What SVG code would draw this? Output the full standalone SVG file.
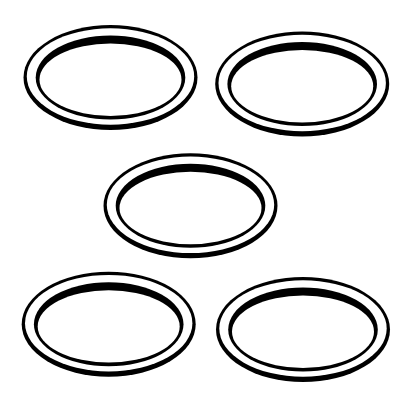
<svg xmlns="http://www.w3.org/2000/svg" xmlns:xlink="http://www.w3.org/1999/xlink" width="412" height="417" viewBox="0 0 412 417">
  <style>
    .ink { fill: #000000; }
    .paper { fill: #ffffff; }
  </style>
  <defs>
    <g id="ring">
      <ellipse class="ink" cx="0" cy="0" rx="87" ry="52.5"/>
      <ellipse class="paper" cx="0" cy="-1" rx="83.7" ry="48.3"/>
      <ellipse class="ink" cx="0" cy="0" rx="74.8" ry="42"/>
      <ellipse class="paper" cx="0" cy="2.2" rx="71" ry="36.2"/>
    </g>
  </defs>
  <rect width="412" height="417" fill="#ffffff"/>
  <g id="ring-top-left"><use href="#ring" xlink:href="#ring" transform="translate(110.5,77.5)"/></g>
  <g id="ring-top-right"><use href="#ring" xlink:href="#ring" transform="translate(302.2,84)"/></g>
  <g id="ring-center"><use href="#ring" xlink:href="#ring" transform="translate(190.5,205.8)"/></g>
  <g id="ring-bottom-left"><use href="#ring" xlink:href="#ring" transform="translate(108.7,324.2)"/></g>
  <g id="ring-bottom-right"><use href="#ring" xlink:href="#ring" transform="translate(303,329.5)"/></g>
</svg>
